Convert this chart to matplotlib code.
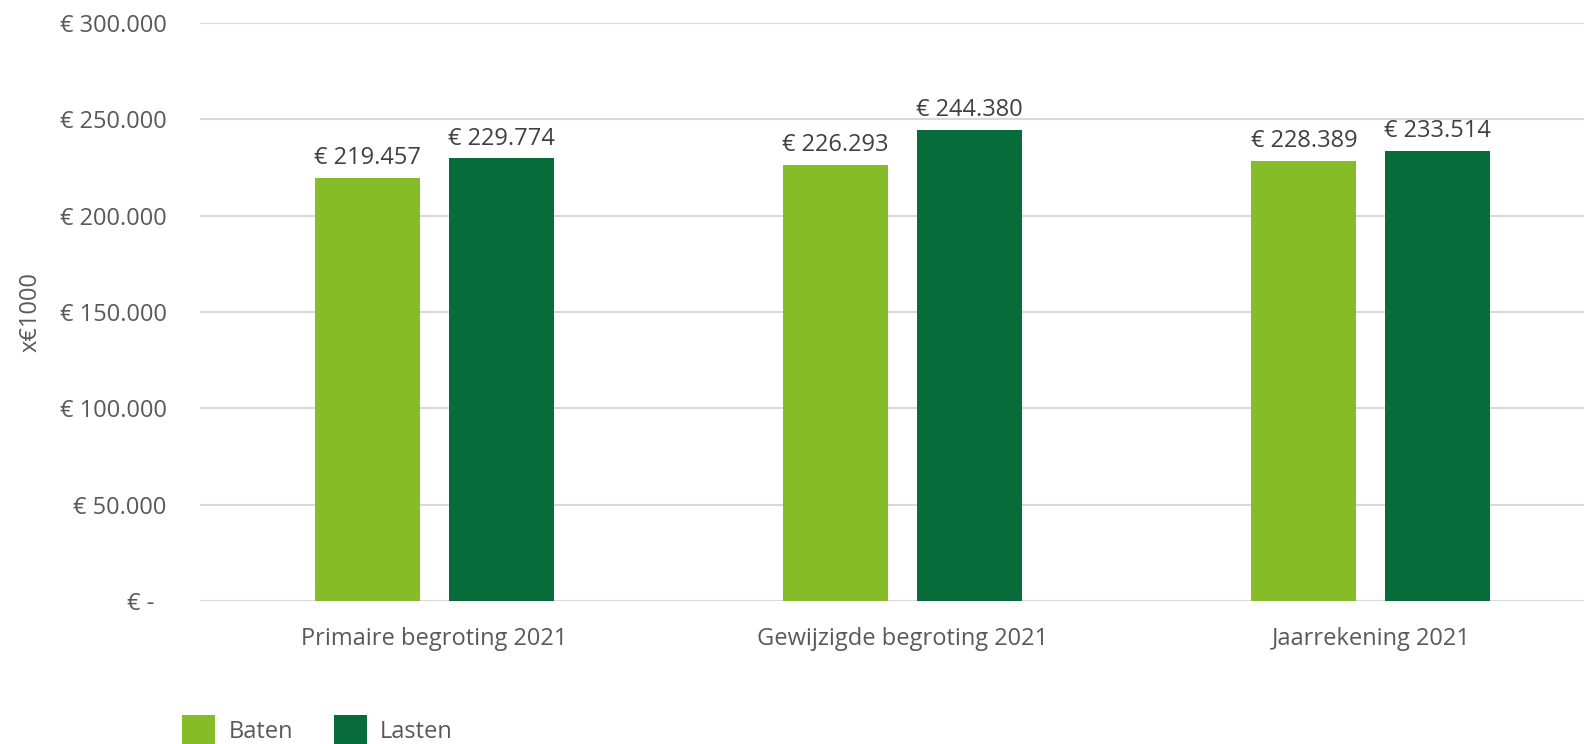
import numpy as np
import matplotlib.pyplot as plt

plt.rcParams['font.family'] = ['Open Sans', 'DejaVu Sans']

# data (x €1000)
categories = ['Primaire begroting 2021', 'Gewijzigde begroting 2021', 'Jaarrekening 2021']
baten = [219457, 226293, 228389]
lasten = [229774, 244380, 233514]
yticks = [0, 50000, 100000, 150000, 200000, 250000, 300000]

c_baten = '#86BC28'
c_lasten = '#086C3A'
txt = '#595959'

def euro(v):
    if v == 0:
        return '€ -  '
    return '€ ' + f'{v:,.0f}'.replace(',', '.')

fig = plt.figure(figsize=(15.84, 7.44), dpi=100)
ax = fig.add_axes([200 / 1584, 143 / 744, 1405 / 1584, 578 / 744])

x = np.arange(len(categories))
w = 0.224
off = 0.143
b1 = ax.bar(x - off, baten, w, color=c_baten, label='Baten', zorder=3)
b2 = ax.bar(x + off, lasten, w, color=c_lasten, label='Lasten', zorder=3)

for bars, vals in ((b1, baten), (b2, lasten)):
    for r, v in zip(bars, vals):
        ax.text(r.get_x() + r.get_width() / 2, v + 4000, euro(v),
                ha='center', va='bottom', fontsize=17, color='#404040')

ax.set_xlim(-0.5, 2.5)
ax.set_ylim(0, 300000)
ax.set_yticks(yticks)
ax.set_yticklabels([euro(v) for v in yticks])
ax.set_xticks(x)
ax.set_xticklabels(categories)
ax.tick_params(axis='both', length=0, labelsize=17, labelcolor=txt)
ax.tick_params(axis='y', pad=24)
ax.tick_params(axis='x', pad=19)
ax.yaxis.grid(True, color='#D9D9D9', lw=1.5, zorder=0)
for s in ax.spines.values():
    s.set_visible(False)
ax.set_ylabel('x€1000', fontsize=17, color=txt, labelpad=12)

fig.legend(handles=[b1, b2], loc='lower left', bbox_to_anchor=(161 / 1584, -0.03),
           ncol=2, frameon=False, fontsize=17, labelcolor=txt,
           handlelength=1.4, handleheight=1.6, columnspacing=1.75, handletextpad=0.55)

fig.savefig('out.png', dpi=100)
